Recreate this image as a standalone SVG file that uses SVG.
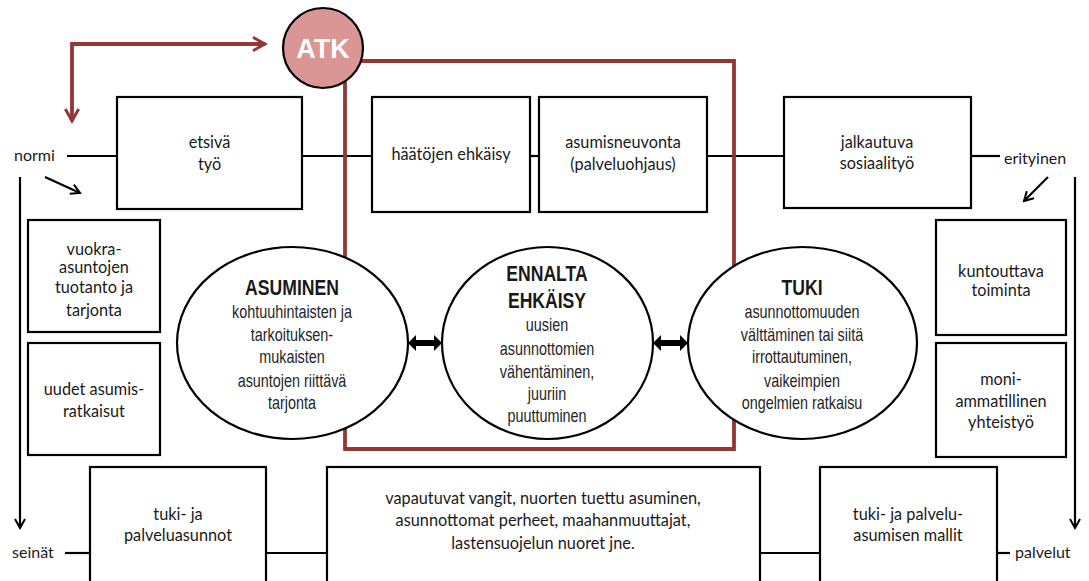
<svg xmlns="http://www.w3.org/2000/svg" width="1089" height="581" viewBox="0 0 1089 581">
<defs>
<style>
.box{fill:#fff;stroke:#000;stroke-width:2.2}
.ell{fill:#fff;stroke:#000;stroke-width:2.2}
.ln{fill:none;stroke:#000;stroke-width:2.2}
.t{font-family:Lato,"Open Sans","Liberation Sans",sans-serif;font-size:16.3px;fill:#1a1a1a;text-anchor:middle}
.tl{font-family:Lato,"Open Sans","Liberation Sans",sans-serif;font-size:16px;fill:#1a1a1a}
.n{font-family:"Liberation Sans",sans-serif;font-size:18px;fill:#262626;text-anchor:middle}
.nb{font-family:"Liberation Sans",sans-serif;font-size:22px;font-weight:bold;fill:#1a1a1a;text-anchor:middle}
.red{fill:none;stroke:#943634;stroke-width:3.8}
</style>
<marker id="ab" viewBox="0 0 12 12" refX="10" refY="6" markerWidth="12" markerHeight="12" markerUnits="userSpaceOnUse" orient="auto">
<path d="M1,1 L10,6 L1,11" fill="none" stroke="#000" stroke-width="2"/>
</marker>
<marker id="ar" viewBox="0 0 12 12" refX="10" refY="6" markerWidth="16" markerHeight="16" markerUnits="userSpaceOnUse" orient="auto-start-reverse">
<path d="M1,1 L10,6 L1,11" fill="none" stroke="#943634" stroke-width="2.2"/>
</marker>
</defs>

<g id="connectors">
<line class="ln" x1="67" y1="156" x2="117" y2="156"/>
<line class="ln" x1="302" y1="156" x2="372" y2="156"/>
<line class="ln" x1="530" y1="156" x2="539" y2="156"/>
<line class="ln" x1="707" y1="156" x2="784" y2="156"/>
<line class="ln" x1="971" y1="156" x2="1000" y2="156"/>
<line class="ln" x1="65" y1="553" x2="90" y2="553"/>
<line class="ln" x1="266" y1="553" x2="327" y2="553"/>
<line class="ln" x1="760" y1="553" x2="820" y2="553"/>
<line class="ln" x1="997" y1="553" x2="1010" y2="553"/>
<line class="ln" x1="20" y1="177" x2="20" y2="528" marker-end="url(#ab)"/>
<line class="ln" x1="1075" y1="177" x2="1075" y2="528" marker-end="url(#ab)"/>
<line class="ln" x1="45" y1="177" x2="80" y2="193" marker-end="url(#ab)"/>
<line class="ln" x1="1048" y1="177" x2="1024" y2="201" marker-end="url(#ab)"/>
<polyline class="red" points="72,121 72,44 265,44" marker-start="url(#ar)" marker-end="url(#ar)"/>
<polyline class="red" points="360,61 734,61 734,449 345,449 345,82"/>
<polygon points="408,343 416,335 416,340 434,340 434,335 442,343 434,351 434,346 416,346 416,351" fill="#000"/>
<polygon points="653,343 661,335 661,340 680,340 680,335 688,343 680,351 680,346 661,346 661,351" fill="#000"/>
</g>

<g id="atk">
<circle cx="323" cy="48" r="40" fill="#D99694" stroke="#000" stroke-width="2.2"/>
<text x="323" y="58" font-family="'Liberation Sans',sans-serif" font-size="27" font-weight="bold" fill="#fff" text-anchor="middle">ATK</text>
</g>

<g id="normi"><text class="tl" x="14" y="161">normi</text></g>
<g id="erityinen"><text class="tl" x="1004" y="164">erityinen</text></g>
<g id="seinat"><text class="tl" x="12" y="558">seinät</text></g>
<g id="palvelut"><text class="tl" x="1015" y="558">palvelut</text></g>

<g id="etsiva">
<rect class="box" x="117" y="97" width="185" height="112"/>
<text class="t" x="209.5" y="148">etsivä</text>
<text class="t" x="209.5" y="170">työ</text>
</g>
<g id="haatojen">
<rect class="box" x="372" y="97" width="158" height="115"/>
<text class="t" x="451" y="160">häätöjen ehkäisy</text>
</g>
<g id="asumisneuvonta">
<rect class="box" x="539" y="97" width="168" height="115"/>
<text class="t" x="623" y="148">asumisneuvonta</text>
<text class="t" x="623" y="170">(palveluohjaus)</text>
</g>
<g id="jalkautuva">
<rect class="box" x="784" y="97" width="187" height="111"/>
<text class="t" x="877" y="148">jalkautuva</text>
<text class="t" x="877" y="169">sosiaalityö</text>
</g>

<g id="vuokra">
<rect class="box" x="28" y="220" width="132" height="112"/>
<text class="t" x="94" y="255">vuokra-</text>
<text class="t" x="94" y="273">asuntojen</text>
<text class="t" x="94" y="293">tuotanto ja</text>
<text class="t" x="94" y="316">tarjonta</text>
</g>
<g id="uudet">
<rect class="box" x="28" y="343" width="132" height="112"/>
<text class="t" x="94" y="395">uudet asumis-</text>
<text class="t" x="94" y="417">ratkaisut</text>
</g>
<g id="kuntouttava">
<rect class="box" x="936" y="220" width="130" height="115"/>
<text class="t" x="1001" y="277">kuntouttava</text>
<text class="t" x="1001" y="296">toiminta</text>
</g>
<g id="moni">
<rect class="box" x="936" y="343" width="130" height="114"/>
<text class="t" x="1001" y="385">moni-</text>
<text class="t" x="1001" y="407">ammatillinen</text>
<text class="t" x="1001" y="428">yhteistyö</text>
</g>

<g id="asuminen">
<ellipse class="ell" cx="292.5" cy="343" rx="115.5" ry="96"/>
<g transform="translate(292,0) scale(0.8,1)">
<text class="nb" x="0" y="295">ASUMINEN</text>
<text class="n" x="0" y="318">kohtuuhintaisten ja</text>
<text class="n" x="0" y="341">tarkoituksen-</text>
<text class="n" x="0" y="363">mukaisten</text>
<text class="n" x="0" y="387">asuntojen riittävä</text>
<text class="n" x="0" y="409">tarjonta</text>
</g>
</g>
<g id="ennalta">
<ellipse class="ell" cx="547.5" cy="343" rx="105.5" ry="96"/>
<g transform="translate(547,0) scale(0.8,1)">
<text class="nb" x="0" y="281">ENNALTA</text>
<text class="nb" x="0" y="308">EHKÄISY</text>
<text class="n" x="0" y="331">uusien</text>
<text class="n" x="0" y="355">asunnottomien</text>
<text class="n" x="0" y="378">vähentäminen,</text>
<text class="n" x="0" y="400">juuriin</text>
<text class="n" x="0" y="422">puuttuminen</text>
</g>
</g>
<g id="tuki">
<ellipse class="ell" cx="802.5" cy="343" rx="114.5" ry="96"/>
<g transform="translate(802,0) scale(0.8,1)">
<text class="nb" x="0" y="295">TUKI</text>
<text class="n" x="0" y="318">asunnottomuuden</text>
<text class="n" x="0" y="341">välttäminen tai siitä</text>
<text class="n" x="0" y="363">irrottautuminen,</text>
<text class="n" x="0" y="387">vaikeimpien</text>
<text class="n" x="0" y="409">ongelmien ratkaisu</text>
</g>
</g>

<g id="tukipalveluasunnot">
<rect class="box" x="90" y="467" width="176" height="130"/>
<text class="t" x="178" y="520">tuki- ja</text>
<text class="t" x="178" y="541">palveluasunnot</text>
</g>
<g id="vapautuvat">
<rect class="box" x="327" y="467" width="433" height="130"/>
<text class="t" x="543" y="504">vapautuvat vangit, nuorten tuettu asuminen,</text>
<text class="t" x="543" y="526">asunnottomat perheet, maahanmuuttajat,</text>
<text class="t" x="543" y="549">lastensuojelun nuoret jne.</text>
</g>
<g id="mallit">
<rect class="box" x="820" y="467" width="177" height="130"/>
<text class="t" x="908" y="520">tuki- ja palvelu-</text>
<text class="t" x="908" y="541">asumisen mallit</text>
</g>
</svg>
